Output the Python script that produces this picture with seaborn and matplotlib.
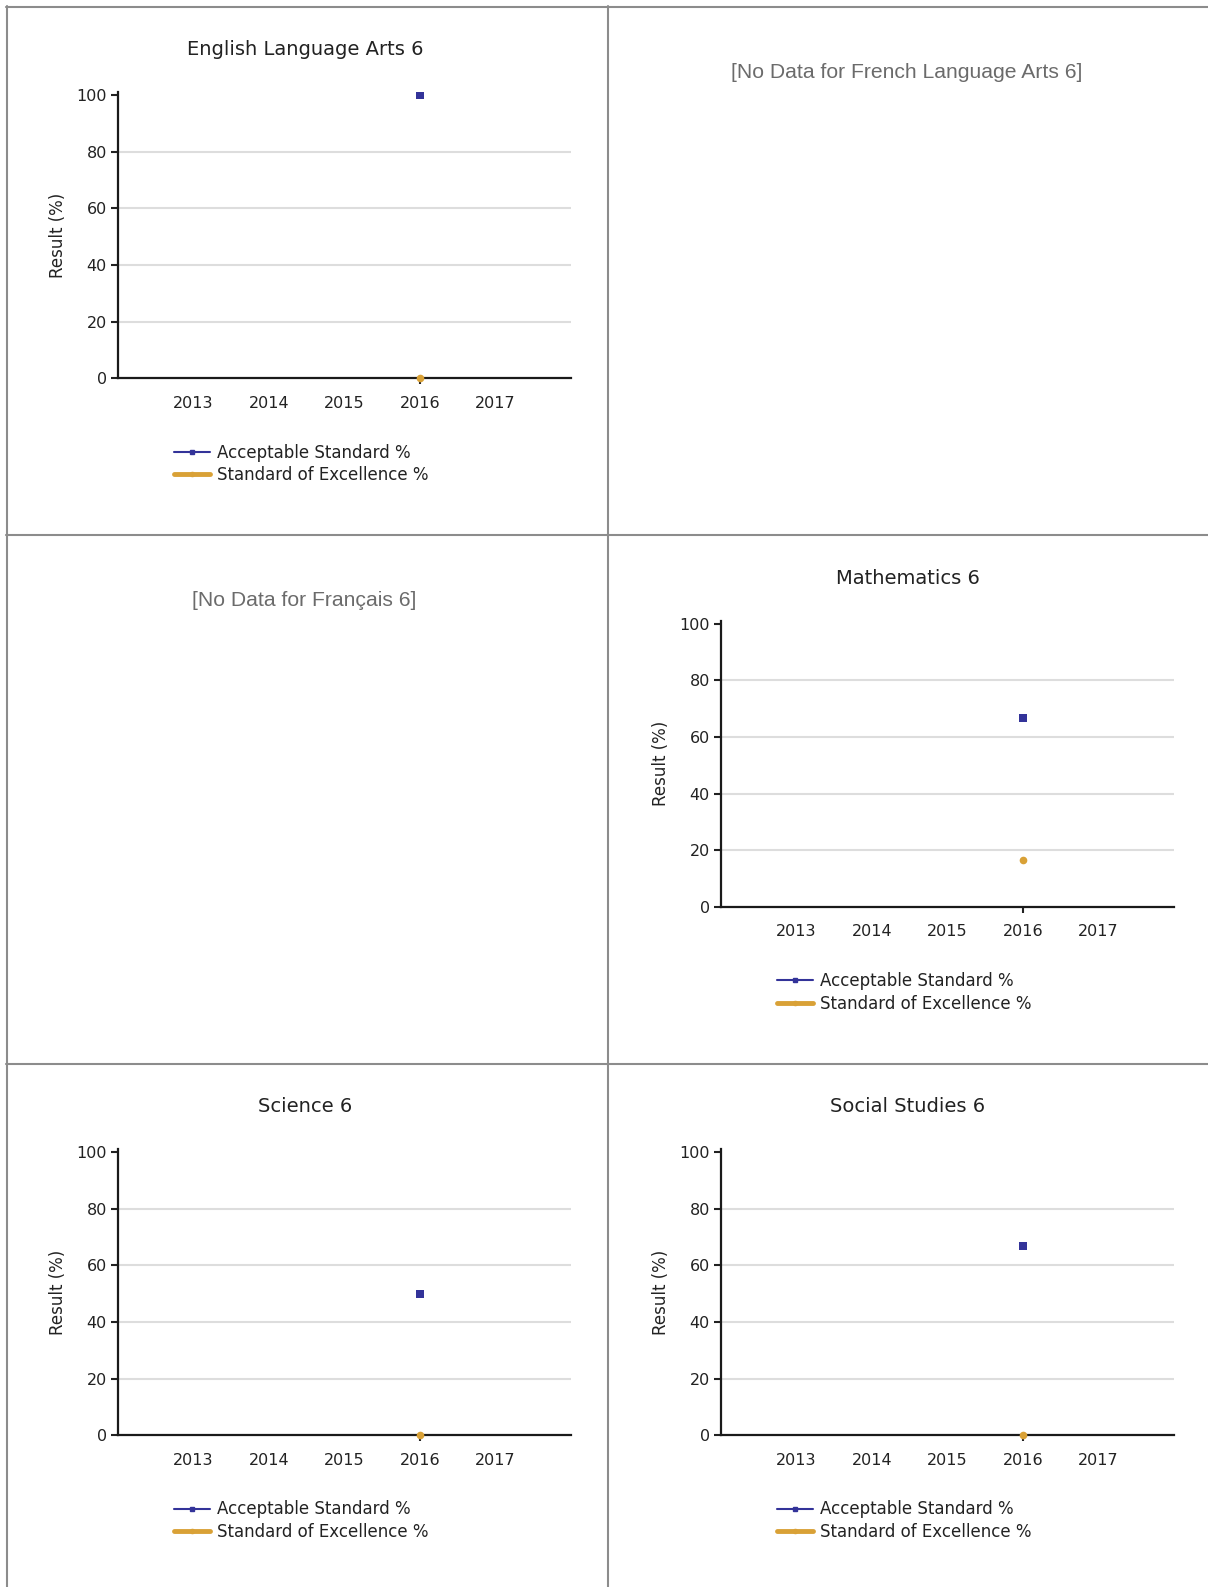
import matplotlib
matplotlib.use("Agg")
import matplotlib.pyplot as plt
import numpy as np
import pandas as pd
import seaborn as sns
from matplotlib.lines import Line2D

# data (missing years are NaN)
years = [2013, 2014, 2015, 2016, 2017]
nan = np.nan

ela_acceptable = [nan, nan, nan, 100.0, nan]
ela_excellence = [nan, nan, nan, 0.0, nan]
math_acceptable = [nan, nan, nan, 66.7, nan]
math_excellence = [nan, nan, nan, 16.7, nan]
sci_acceptable = [nan, nan, nan, 50.0, nan]
sci_excellence = [nan, nan, nan, 0.0, nan]
soc_acceptable = [nan, nan, nan, 66.7, nan]
soc_excellence = [nan, nan, nan, 0.0, nan]

series_names = ["Acceptable Standard %", "Standard of Excellence %"]
y_ticks = [0, 20, 40, 60, 80, 100]

# (title, acceptable, excellence, col, row) ; None means no data
panels = [
    ("English Language Arts 6", ela_acceptable, ela_excellence, 0, 0),
    ("French Language Arts 6", None, None, 1, 0),
    ("Français 6", None, None, 0, 1),
    ("Mathematics 6", math_acceptable, math_excellence, 1, 1),
    ("Science 6", sci_acceptable, sci_excellence, 0, 2),
    ("Social Studies 6", soc_acceptable, soc_excellence, 1, 2),
]

BLUE = "#333399"
GOLD = "#D9A136"
W, H = 1208, 1587
DX, DY = 603, 528.5

sns.set_style("white")
plt.rcParams["font.family"] = ["DejaVu Sans"]

fig = plt.figure(figsize=(W / 100, H / 100), dpi=100)


def fx(px):
    return px / W


def fy(py):
    return 1 - py / H


# table borders
border = dict(color="#8c8c8c", linewidth=1.5)
for yy in [6.5, 535, 1064]:
    fig.add_artist(Line2D([fx(6), 1], [fy(yy), fy(yy)], **border))
fig.add_artist(Line2D([fx(6.5), fx(6.5)], [fy(6), 0], **border))
fig.add_artist(Line2D([fx(608), fx(608)], [fy(6), 0], **border))

for title, acc, exc, col, row in panels:
    ox, oy = DX * col, DY * row
    if acc is None:
        fig.text(fx(907 - DX + ox), fy(72 + oy), f"[No Data for {title}]",
                 ha="center", va="center", fontsize=15.2, color="#6b6b6b",
                 family=["Liberation Sans", "DejaVu Sans"])
        continue

    left, right = 118 + ox, 571 + ox
    top, bottom = 92.3 + oy, 378.4 + oy
    ax = fig.add_axes([fx(left), fy(bottom), fx(right - left), (bottom - top) / H])

    df = pd.DataFrame({"year": years, "acc": acc, "exc": exc})
    sns.lineplot(data=df, x="year", y="acc", ax=ax, color=BLUE, marker="s",
                 markersize=6, markeredgewidth=0, linewidth=1.5, estimator=None)
    sns.lineplot(data=df, x="year", y="exc", ax=ax, color=GOLD, marker="o",
                 markersize=5.5, markeredgewidth=0, linewidth=3, estimator=None,
                 clip_on=False, zorder=5)

    ax.set_xlim(2012, 2018)
    ax.set_ylim(0, 101)
    ax.set_yticks(y_ticks)
    ax.set_xticks(years)
    ax.xaxis.remove_overlapping_locs = False
    ax.set_xticks([2016], minor=True)
    ax.tick_params(axis="x", which="major", length=0, pad=12.5,
                   labelsize=11.5, labelcolor="#222222")
    ax.tick_params(axis="x", which="minor", length=4, width=1.5,
                   color="#222222", bottom=True)
    ax.tick_params(axis="y", length=5, width=1.5, pad=3, color="#222222",
                   labelsize=11.5, labelcolor="#222222", left=True)

    ax.yaxis.grid(True, color="#dddddd", linewidth=1.5)
    ax.xaxis.grid(False)
    ax.set_axisbelow(True)
    ax.get_ygridlines()[-1].set_visible(False)
    ax.get_ygridlines()[0].set_visible(False)

    for side in ["top", "right"]:
        ax.spines[side].set_visible(False)
    for side in ["left", "bottom"]:
        ax.spines[side].set_color("#1a1a1a")
        ax.spines[side].set_linewidth(1.6)

    ax.set_xlabel("")
    ax.set_ylabel("Result (%)", fontsize=12, color="#222222")
    ax.yaxis.set_label_coords(-0.113, 0.5)

    fig.text(fx(305 + ox), fy(49.5 + oy), title, ha="center", va="center",
             fontsize=14, color="#222222")

    handles = [
        Line2D([], [], color=BLUE, linewidth=1.5, marker="s", markersize=3),
        Line2D([], [], color=GOLD, linewidth=3.5, marker="o", markersize=3),
    ]
    ax.legend(handles, series_names, loc="upper left",
              bbox_to_anchor=(fx(174 + ox), fy(443.5 + oy)),
              bbox_transform=fig.transFigure, frameon=False, fontsize=12,
              handlelength=2.15, handletextpad=0.45, labelspacing=0.28,
              borderpad=0, borderaxespad=0, labelcolor="#222222")

fig.savefig("out.png", dpi=100)
